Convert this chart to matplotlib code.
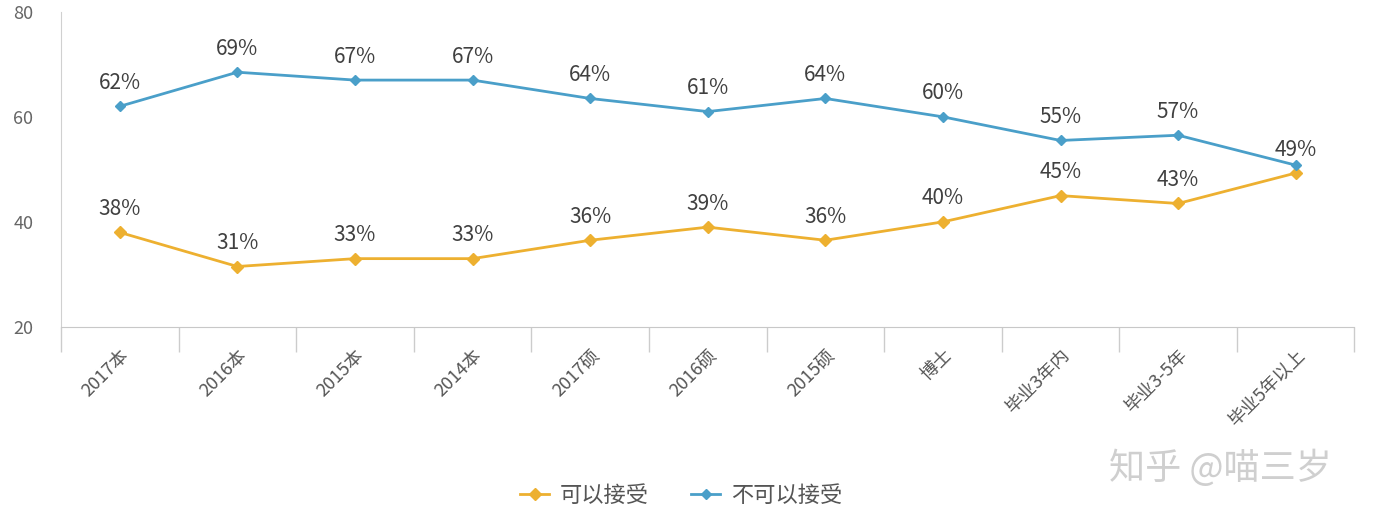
import matplotlib
matplotlib.use("Agg")
import matplotlib.pyplot as plt
import numpy as np

plt.rcParams['font.family'] = ['Noto Sans CJK SC', 'DejaVu Sans']

categories = ["2017本", "2016本", "2015本", "2014本", "2017硕", "2016硕", "2015硕",
              "博士", "毕业3年内", "毕业3-5年", "毕业5年以上"]
accept = [38, 31.5, 33, 33, 36.5, 39, 36.5, 40, 45, 43.5, 49.3]
accept_labels = ["38%", "31%", "33%", "33%", "36%", "39%", "36%", "40%", "45%", "43%", "49%"]
reject = [62, 68.5, 67, 67, 63.5, 61, 63.5, 60, 55.5, 56.5, 50.8]
reject_labels = ["62%", "69%", "67%", "67%", "64%", "61%", "64%", "60%", "55%", "57%", ""]
yticks = [20, 40, 60, 80]

c_orange = "#EDB030"
c_blue = "#4A9FC9"

fig = plt.figure(figsize=(13.82, 5.14), dpi=100)
ax = fig.add_axes([0.0441, 0.364, 0.936, 0.613])
x = np.arange(len(categories))

ax.plot(x, accept, color=c_orange, lw=2, marker="D", ms=6, label="可以接受")
ax.plot(x, reject, color=c_blue, lw=2, marker="D", ms=5, label="不可以接受")

for xi, v, t in zip(x, accept, accept_labels):
    if t:
        ax.annotate(t, (xi, v), xytext=(0, 9), textcoords="offset points",
                    ha="center", va="bottom", fontsize=15, color="#404040")
for xi, v, t in zip(x, reject, reject_labels):
    if t:
        ax.annotate(t, (xi, v), xytext=(0, 9), textcoords="offset points",
                    ha="center", va="bottom", fontsize=15, color="#404040")

ax.set_xlim(-0.5, len(categories) - 0.5)
ax.set_ylim(20, 80)
ax.set_yticks(yticks)
ax.tick_params(axis="y", length=0, pad=20, labelsize=13, labelcolor="#666666")
ax.set_xticks(x)
ax.set_xticklabels(categories, rotation=45, ha="right", rotation_mode="anchor",
                   fontsize=13, color="#555555")
ax.set_xticks(np.arange(-0.5, len(categories), 1), minor=True)
ax.tick_params(axis="x", which="major", length=0, pad=14)
ax.tick_params(axis="x", which="minor", length=18, color="#CCCCCC", width=1)

for s in ["top", "right"]:
    ax.spines[s].set_visible(False)
ax.spines["left"].set_color("#D0D0D0")
ax.spines["bottom"].set_color("#C8C8C8")

leg = fig.legend(loc="lower center", bbox_to_anchor=(0.493, -0.025), ncol=2, frameon=False,
                 fontsize=16, handlelength=1.3, handletextpad=0.5, columnspacing=1.9)
for t in leg.get_texts():
    t.set_color("#555555")

fig.text(0.883, 0.089, "知乎 @喵三岁", fontsize=26, color="#CFCFCF", ha="center", va="center")

fig.savefig("out.png", dpi=100)
